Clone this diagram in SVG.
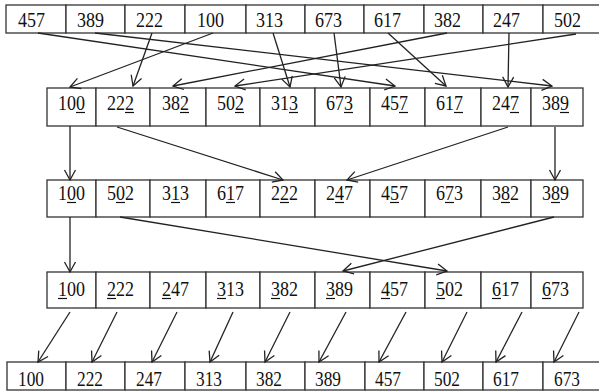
<svg xmlns="http://www.w3.org/2000/svg" width="599" height="391" viewBox="0 0 599 391">
<defs>
<style>
.c{fill:#fff;stroke:#333;stroke-width:1.3}
.t{font-family:"Liberation Serif","Times New Roman",serif;font-size:21px;fill:#111}
.u{stroke:#111;stroke-width:1.2}
.a{stroke:#222;stroke-width:1.3;fill:none;marker-end:url(#ah)}
</style>
<marker id="ah" markerUnits="userSpaceOnUse" markerWidth="14" markerHeight="14" viewBox="-12 -7 14 14" refX="0" refY="0" orient="auto">
<path d="M-10,-5.5 L0,0 L-10,5.5" fill="none" stroke="#222" stroke-width="1.3"/>
</marker>
</defs>
<rect width="599" height="391" fill="#fff"/>

<g id="row1">
<g id="r1c1"><rect class="c" x="6" y="5" width="60" height="28"/><text class="t" x="18" y="27" textLength="27" lengthAdjust="spacingAndGlyphs">457</text></g>
<g id="r1c2"><rect class="c" x="66" y="5" width="59" height="28"/><text class="t" x="77" y="27" textLength="27" lengthAdjust="spacingAndGlyphs">389</text></g>
<g id="r1c3"><rect class="c" x="125" y="5" width="60" height="28"/><text class="t" x="136" y="27" textLength="27" lengthAdjust="spacingAndGlyphs">222</text></g>
<g id="r1c4"><rect class="c" x="185" y="5" width="61" height="28"/><text class="t" x="197" y="27" textLength="27" lengthAdjust="spacingAndGlyphs">100</text></g>
<g id="r1c5"><rect class="c" x="246" y="5" width="59" height="28"/><text class="t" x="256" y="27" textLength="27" lengthAdjust="spacingAndGlyphs">313</text></g>
<g id="r1c6"><rect class="c" x="305" y="5" width="59" height="28"/><text class="t" x="315" y="27" textLength="27" lengthAdjust="spacingAndGlyphs">673</text></g>
<g id="r1c7"><rect class="c" x="364" y="5" width="60" height="28"/><text class="t" x="374" y="27" textLength="27" lengthAdjust="spacingAndGlyphs">617</text></g>
<g id="r1c8"><rect class="c" x="424" y="5" width="59" height="28"/><text class="t" x="434" y="27" textLength="27" lengthAdjust="spacingAndGlyphs">382</text></g>
<g id="r1c9"><rect class="c" x="483" y="5" width="60" height="28"/><text class="t" x="493" y="27" textLength="27" lengthAdjust="spacingAndGlyphs">247</text></g>
<g id="r1c10"><rect class="c" x="543" y="5" width="65" height="28"/><text class="t" x="554" y="27" textLength="27" lengthAdjust="spacingAndGlyphs">502</text></g>
</g>

<g id="row2">
<g id="r2c1"><rect class="c" x="47" y="88" width="49" height="38"/><text class="t" x="58" y="110" textLength="27" lengthAdjust="spacingAndGlyphs">100</text><line class="u" x1="76" y1="112.5" x2="85" y2="112.5"/></g>
<g id="r2c2"><rect class="c" x="96" y="88" width="54" height="38"/><text class="t" x="107" y="110" textLength="27" lengthAdjust="spacingAndGlyphs">222</text><line class="u" x1="125" y1="112.5" x2="134" y2="112.5"/></g>
<g id="r2c3"><rect class="c" x="150" y="88" width="56" height="38"/><text class="t" x="162" y="110" textLength="27" lengthAdjust="spacingAndGlyphs">382</text><line class="u" x1="180" y1="112.5" x2="189" y2="112.5"/></g>
<g id="r2c4"><rect class="c" x="206" y="88" width="54" height="38"/><text class="t" x="217" y="110" textLength="27" lengthAdjust="spacingAndGlyphs">502</text><line class="u" x1="235" y1="112.5" x2="244" y2="112.5"/></g>
<g id="r2c5"><rect class="c" x="260" y="88" width="55" height="38"/><text class="t" x="271" y="110" textLength="27" lengthAdjust="spacingAndGlyphs">313</text><line class="u" x1="289" y1="112.5" x2="298" y2="112.5"/></g>
<g id="r2c6"><rect class="c" x="315" y="88" width="55" height="38"/><text class="t" x="326" y="110" textLength="27" lengthAdjust="spacingAndGlyphs">673</text><line class="u" x1="344" y1="112.5" x2="353" y2="112.5"/></g>
<g id="r2c7"><rect class="c" x="370" y="88" width="55" height="38"/><text class="t" x="381" y="110" textLength="27" lengthAdjust="spacingAndGlyphs">457</text><line class="u" x1="399" y1="112.5" x2="408" y2="112.5"/></g>
<g id="r2c8"><rect class="c" x="425" y="88" width="56" height="38"/><text class="t" x="436" y="110" textLength="27" lengthAdjust="spacingAndGlyphs">617</text><line class="u" x1="454" y1="112.5" x2="463" y2="112.5"/></g>
<g id="r2c9"><rect class="c" x="481" y="88" width="50" height="38"/><text class="t" x="492" y="110" textLength="27" lengthAdjust="spacingAndGlyphs">247</text><line class="u" x1="510" y1="112.5" x2="519" y2="112.5"/></g>
<g id="r2c10"><rect class="c" x="531" y="88" width="52" height="38"/><text class="t" x="542" y="110" textLength="27" lengthAdjust="spacingAndGlyphs">389</text><line class="u" x1="560" y1="112.5" x2="569" y2="112.5"/></g>
</g>

<g id="row3">
<g id="r3c1"><rect class="c" x="47" y="180" width="49" height="37"/><text class="t" x="58" y="200" textLength="27" lengthAdjust="spacingAndGlyphs">100</text><line class="u" x1="67" y1="202.5" x2="76" y2="202.5"/></g>
<g id="r3c2"><rect class="c" x="96" y="180" width="54" height="37"/><text class="t" x="107" y="200" textLength="27" lengthAdjust="spacingAndGlyphs">502</text><line class="u" x1="116" y1="202.5" x2="125" y2="202.5"/></g>
<g id="r3c3"><rect class="c" x="150" y="180" width="56" height="37"/><text class="t" x="162" y="200" textLength="27" lengthAdjust="spacingAndGlyphs">313</text><line class="u" x1="171" y1="202.5" x2="180" y2="202.5"/></g>
<g id="r3c4"><rect class="c" x="206" y="180" width="54" height="37"/><text class="t" x="217" y="200" textLength="27" lengthAdjust="spacingAndGlyphs">617</text><line class="u" x1="226" y1="202.5" x2="235" y2="202.5"/></g>
<g id="r3c5"><rect class="c" x="260" y="180" width="55" height="37"/><text class="t" x="271" y="200" textLength="27" lengthAdjust="spacingAndGlyphs">222</text><line class="u" x1="280" y1="202.5" x2="289" y2="202.5"/></g>
<g id="r3c6"><rect class="c" x="315" y="180" width="55" height="37"/><text class="t" x="326" y="200" textLength="27" lengthAdjust="spacingAndGlyphs">247</text><line class="u" x1="335" y1="202.5" x2="344" y2="202.5"/></g>
<g id="r3c7"><rect class="c" x="370" y="180" width="55" height="37"/><text class="t" x="381" y="200" textLength="27" lengthAdjust="spacingAndGlyphs">457</text><line class="u" x1="390" y1="202.5" x2="399" y2="202.5"/></g>
<g id="r3c8"><rect class="c" x="425" y="180" width="56" height="37"/><text class="t" x="436" y="200" textLength="27" lengthAdjust="spacingAndGlyphs">673</text><line class="u" x1="445" y1="202.5" x2="454" y2="202.5"/></g>
<g id="r3c9"><rect class="c" x="481" y="180" width="50" height="37"/><text class="t" x="492" y="200" textLength="27" lengthAdjust="spacingAndGlyphs">382</text><line class="u" x1="501" y1="202.5" x2="510" y2="202.5"/></g>
<g id="r3c10"><rect class="c" x="531" y="180" width="52" height="37"/><text class="t" x="542" y="200" textLength="27" lengthAdjust="spacingAndGlyphs">389</text><line class="u" x1="551" y1="202.5" x2="560" y2="202.5"/></g>
</g>

<g id="row4">
<g id="r4c1"><rect class="c" x="47" y="272" width="49" height="36"/><text class="t" x="58" y="296" textLength="27" lengthAdjust="spacingAndGlyphs">100</text><line class="u" x1="58" y1="298.5" x2="67" y2="298.5"/></g>
<g id="r4c2"><rect class="c" x="96" y="272" width="54" height="36"/><text class="t" x="107" y="296" textLength="27" lengthAdjust="spacingAndGlyphs">222</text><line class="u" x1="107" y1="298.5" x2="116" y2="298.5"/></g>
<g id="r4c3"><rect class="c" x="150" y="272" width="56" height="36"/><text class="t" x="162" y="296" textLength="27" lengthAdjust="spacingAndGlyphs">247</text><line class="u" x1="162" y1="298.5" x2="171" y2="298.5"/></g>
<g id="r4c4"><rect class="c" x="206" y="272" width="54" height="36"/><text class="t" x="217" y="296" textLength="27" lengthAdjust="spacingAndGlyphs">313</text><line class="u" x1="217" y1="298.5" x2="226" y2="298.5"/></g>
<g id="r4c5"><rect class="c" x="260" y="272" width="55" height="36"/><text class="t" x="271" y="296" textLength="27" lengthAdjust="spacingAndGlyphs">382</text><line class="u" x1="271" y1="298.5" x2="280" y2="298.5"/></g>
<g id="r4c6"><rect class="c" x="315" y="272" width="55" height="36"/><text class="t" x="326" y="296" textLength="27" lengthAdjust="spacingAndGlyphs">389</text><line class="u" x1="326" y1="298.5" x2="335" y2="298.5"/></g>
<g id="r4c7"><rect class="c" x="370" y="272" width="55" height="36"/><text class="t" x="381" y="296" textLength="27" lengthAdjust="spacingAndGlyphs">457</text><line class="u" x1="381" y1="298.5" x2="390" y2="298.5"/></g>
<g id="r4c8"><rect class="c" x="425" y="272" width="56" height="36"/><text class="t" x="436" y="296" textLength="27" lengthAdjust="spacingAndGlyphs">502</text><line class="u" x1="436" y1="298.5" x2="445" y2="298.5"/></g>
<g id="r4c9"><rect class="c" x="481" y="272" width="50" height="36"/><text class="t" x="492" y="296" textLength="27" lengthAdjust="spacingAndGlyphs">617</text><line class="u" x1="492" y1="298.5" x2="501" y2="298.5"/></g>
<g id="r4c10"><rect class="c" x="531" y="272" width="52" height="36"/><text class="t" x="542" y="296" textLength="27" lengthAdjust="spacingAndGlyphs">673</text><line class="u" x1="542" y1="298.5" x2="551" y2="298.5"/></g>
</g>

<g id="row5">
<g id="r5c1"><rect class="c" x="7" y="362" width="59" height="28"/><text class="t" x="18" y="386" textLength="26" lengthAdjust="spacingAndGlyphs">100</text></g>
<g id="r5c2"><rect class="c" x="66" y="362" width="59" height="28"/><text class="t" x="77" y="386" textLength="26" lengthAdjust="spacingAndGlyphs">222</text></g>
<g id="r5c3"><rect class="c" x="125" y="362" width="60" height="28"/><text class="t" x="136" y="386" textLength="26" lengthAdjust="spacingAndGlyphs">247</text></g>
<g id="r5c4"><rect class="c" x="185" y="362" width="61" height="28"/><text class="t" x="196" y="386" textLength="26" lengthAdjust="spacingAndGlyphs">313</text></g>
<g id="r5c5"><rect class="c" x="246" y="362" width="59" height="28"/><text class="t" x="256" y="386" textLength="26" lengthAdjust="spacingAndGlyphs">382</text></g>
<g id="r5c6"><rect class="c" x="305" y="362" width="60" height="28"/><text class="t" x="315" y="386" textLength="26" lengthAdjust="spacingAndGlyphs">389</text></g>
<g id="r5c7"><rect class="c" x="365" y="362" width="59" height="28"/><text class="t" x="375" y="386" textLength="26" lengthAdjust="spacingAndGlyphs">457</text></g>
<g id="r5c8"><rect class="c" x="424" y="362" width="59" height="28"/><text class="t" x="434" y="386" textLength="26" lengthAdjust="spacingAndGlyphs">502</text></g>
<g id="r5c9"><rect class="c" x="483" y="362" width="60" height="28"/><text class="t" x="493" y="386" textLength="26" lengthAdjust="spacingAndGlyphs">617</text></g>
<g id="r5c10"><rect class="c" x="543" y="362" width="65" height="28"/><text class="t" x="554" y="386" textLength="26" lengthAdjust="spacingAndGlyphs">673</text></g>
</g>

<g id="connectors">
<line class="a" x1="38" y1="33" x2="395" y2="86"/>
<line class="a" x1="95" y1="33" x2="552" y2="86"/>
<line class="a" x1="152" y1="33" x2="133" y2="86"/>
<line class="a" x1="213" y1="33" x2="70" y2="87"/>
<line class="a" x1="273" y1="33" x2="290" y2="87"/>
<line class="a" x1="334" y1="33" x2="341" y2="87"/>
<line class="a" x1="388" y1="33" x2="446" y2="86"/>
<line class="a" x1="447" y1="33" x2="173" y2="86"/>
<line class="a" x1="509" y1="33" x2="508" y2="87"/>
<line class="a" x1="576" y1="34" x2="235" y2="86"/>

<line class="a" x1="70" y1="126" x2="70" y2="180"/>
<line class="a" x1="117" y1="127" x2="283" y2="180"/>
<line class="a" x1="508" y1="127" x2="347" y2="180"/>
<line class="a" x1="555" y1="127" x2="555" y2="180"/>

<line class="a" x1="70" y1="217" x2="70" y2="272"/>
<line class="a" x1="120" y1="217" x2="447" y2="271"/>
<line class="a" x1="554" y1="217" x2="343" y2="271"/>

<line class="a" x1="70" y1="312" x2="38" y2="362"/>
<line class="a" x1="117" y1="312" x2="92" y2="362"/>
<line class="a" x1="177" y1="312" x2="152" y2="362"/>
<line class="a" x1="233" y1="312" x2="210" y2="362"/>
<line class="a" x1="290" y1="312" x2="265" y2="362"/>
<line class="a" x1="346" y1="312" x2="319" y2="362"/>
<line class="a" x1="406" y1="312" x2="379" y2="362"/>
<line class="a" x1="467" y1="312" x2="442" y2="362"/>
<line class="a" x1="522" y1="312" x2="496" y2="362"/>
<line class="a" x1="579" y1="312" x2="554" y2="362"/>
</g>
</svg>
